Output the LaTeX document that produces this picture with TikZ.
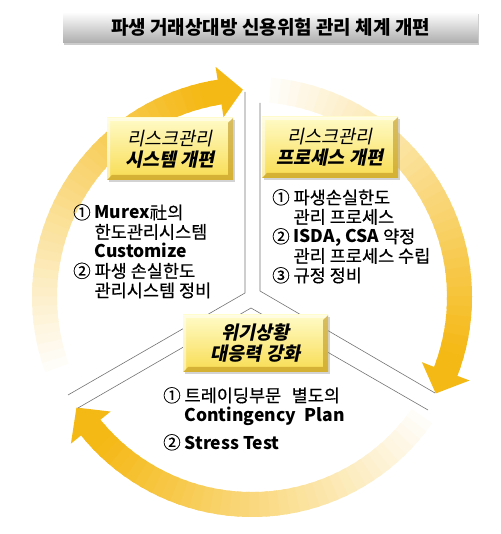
\documentclass[tikz,border=0pt]{standalone}
\usepackage{fontspec}
\setmainfont{Noto Sans CJK KR}[UprightFeatures={FakeBold=0.5}]
\newfontfamily\slkr[FakeSlant=0.2]{Noto Sans CJK KR}
\usepackage{tikz}
\usetikzlibrary{calc,shadows}
\pgfdeclarelayer{bg}
\pgfsetlayers{bg,main}

\definecolor{arrowgold}{RGB}{245,185,22}
\definecolor{boxtop}{RGB}{255,251,200}
\definecolor{boxbot}{RGB}{248,220,80}
\definecolor{bevel}{RGB}{190,148,30}
\definecolor{divline}{RGB}{115,115,115}

\tikzset{
  topic/.style={top color=boxtop, bottom color=boxbot, inner sep=0pt, align=center,
    font=\slkr\fontsize{18.5}{21}\selectfont,
    drop shadow={shadow xshift=2pt, shadow yshift=-2pt, opacity=.35},
    path picture={
      \fill[bevel, opacity=.6] (path picture bounding box.north east) -- (path picture bounding box.south east)
        -- (path picture bounding box.south west) -- ([shift={(5pt,5pt)}]path picture bounding box.south west)
        -- ([shift={(-5pt,5pt)}]path picture bounding box.south east) -- ([shift={(-5pt,-5pt)}]path picture bounding box.north east) -- cycle;
      \fill[white, opacity=.5] (path picture bounding box.north east) -- (path picture bounding box.north west)
        -- (path picture bounding box.south west) -- ([shift={(3pt,3pt)}]path picture bounding box.south west)
        -- ([shift={(3pt,-3pt)}]path picture bounding box.north west) -- ([shift={(-3pt,-3pt)}]path picture bounding box.north east) -- cycle;
    }},
  titlebar/.style={top color=white, bottom color=black!32, inner sep=0pt,
    font=\bfseries\fontsize{19}{22}\selectfont,
    drop shadow={shadow xshift=1pt, shadow yshift=-2pt, opacity=.4}},
  items/.style={anchor=north west, inner sep=0pt, align=left, font=\fontsize{17.5}{19.5}\selectfont},
  divider/.style={draw=divline, line width=.6pt}
}

% tail angle, head base angle, tip angle
\newcommand{\fadearrow}[3]{%
  \foreach \k in {0,...,39}{%
    \pgfmathsetmacro\angA{#1+(#2-#1)*\k/40}%
    \pgfmathsetmacro\angB{#1+(#2-#1)*(\k+1.4)/40}%
    \pgfmathsetmacro\tint{min(100,3+\k*2.6)}%
    \fill[arrowgold!\tint!white] ($(C)+(\angA:195)$) arc[start angle=\angA, end angle=\angB, radius=195pt]
      -- ($(C)+(\angB:220)$) arc[start angle=\angB, end angle=\angA, radius=220pt] -- cycle;
  }%
  \fill[arrowgold] ($(C)+(#2:182)$) -- ($(C)+(#2:233)$) -- ($(C)+(#3:207.5)$) -- cycle;
}

\begin{document}
\begin{tikzpicture}[x=1pt, y=1pt]
        \useasboundingbox (0,0) rectangle (500,534);
        \coordinate (C) at (252,237);

        \node (title) [titlebar, minimum width=415pt, minimum height=31pt] at (270.5,506.5) {파생 거래상대방 신용위험 관리 체계 개편};

        \node (sys) [topic, minimum width=126pt, minimum height=62pt] at (170,385) {리스크관리\\\textbf{시스템 개편}};
        \node (proc) [topic, minimum width=136pt, minimum height=61pt] at (330,386.5) {리스크관리\\\textbf{프로세스 개편}};
        \node (crisis) [topic, minimum width=145pt, minimum height=57pt] at (255.5,190.5) {\textbf{위기상황}\\\textbf{대응력 강화}};

        \node (sysitems) [items] at (73,330) {① \textbf{Murex}社의\\\phantom{① }한도관리시스템\\\phantom{① }\textbf{Customize}\\② 파생 손실한도\\\phantom{② }관리시스템 정비};
        \node (procitems) [items] at (272,345) {① 파생손실한도\\\phantom{① }관리 프로세스\\② \textbf{ISDA, CSA} 약정\\\phantom{② }관리 프로세스 수립\\③ 규정 정비};
        \node (crisisitems) [items] at (163,147) {① 트레이딩부문\hspace{.6em}별도의\\\phantom{① }\textbf{Contingency\hspace{.5em}Plan}\\[8pt]② \textbf{Stress Test}};

        \coordinate (lt) at (245,442);
        \coordinate (lm) at (245,241);
        \coordinate (le) at (68,139);
        \coordinate (rt) at (260,431);
        \coordinate (rm) at (260,243);
        \coordinate (re) at (435,141);
        \coordinate (pl) at (78,126);
        \coordinate (pk) at (251,226);
        \coordinate (pr) at (428,124);

        \begin{pgfonlayer}{bg}
                \fadearrow{200}{99}{92.5}
                \fadearrow{85}{-21}{-27.7}
                \fadearrow{-35}{-141}{-147.8}
                \draw[divider] (lt) -- (lm) -- (le);
                \draw[divider] (rt) -- (rm) -- (re);
                \draw[divider] (pl) -- (pk) -- (pr);
        \end{pgfonlayer}
\end{tikzpicture}
\end{document}
